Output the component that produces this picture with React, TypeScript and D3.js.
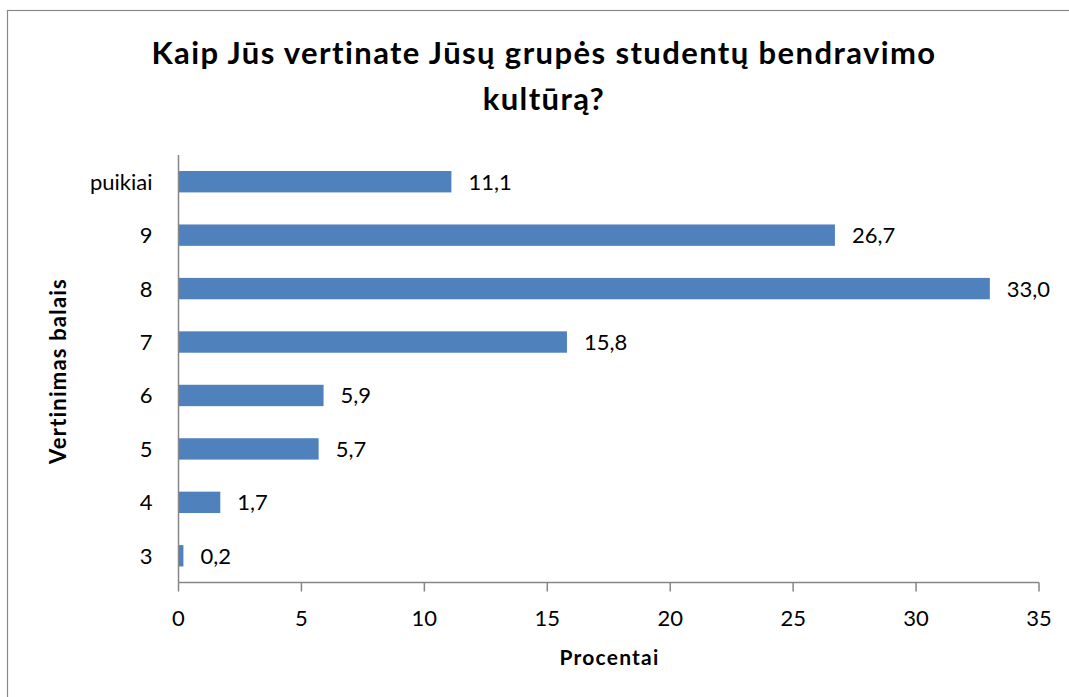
import React from "react";
import * as d3 from "d3";

const categories = ["puikiai", "9", "8", "7", "6", "5", "4", "3"];
const values = [11.1, 26.7, 33.0, 15.8, 5.9, 5.7, 1.7, 0.2];
const xTicks = [0, 5, 10, 15, 20, 25, 30, 35];
const titleLines = ["Kaip Jūs vertinate Jūsų grupės studentų bendravimo", "kultūrą?"];
const xTitle = "Procentai";
const yTitle = "Vertinimas balais";

const FONT = "Lato, 'Open Sans', sans-serif";

export default function App() {
  const W = 1069, H = 697;
  const left = 178.5, right = 1039, top = 155, bottom = 582.5;
  const x = d3.scaleLinear().domain([0, 35]).range([left, right]);
  const y = d3.scaleBand().domain(categories).range([top, bottom]).paddingInner(0.6).paddingOuter(0.3);
  const fmt = (v: number) => v.toFixed(1).replace(".", ",");
  const axisColor = "#868686";
  return (
    <svg width={W} height={H} style={{ position: "absolute", left: 0, top: 0 }} fontFamily={FONT}>
      <rect x={0} y={0} width={W} height={H} fill="#fff" />
      <rect x={7.5} y={10.5} width={W + 10} height={H + 10} fill="none" stroke="#898989" strokeWidth={1.2} />
      {titleLines.map((t, i) => (
        <text key={i} x={544} y={64 + i * 46} textAnchor="middle" fontSize={31} fontWeight="bold" letterSpacing={1.4} fill="#000">{t}</text>
      ))}
      {categories.map((c, i) => (
        <g key={c}>
          <rect x={x(0)} y={y(c)!} width={x(values[i]) - x(0)} height={y.bandwidth()} fill="#4F81BD" />
          <text x={x(values[i]) + 17} y={y(c)! + y.bandwidth() / 2 + 8} fontSize={22} fill="#000">{fmt(values[i])}</text>
          <text x={left - 26} y={y(c)! + y.bandwidth() / 2 + 8} textAnchor="end" fontSize={22} fill="#000">{c}</text>
        </g>
      ))}
      <line x1={left} x2={left} y1={top} y2={bottom} stroke={axisColor} strokeWidth={1.5} />
      <line x1={left} x2={right} y1={bottom} y2={bottom} stroke={axisColor} strokeWidth={1.5} />
      {xTicks.map(t => (
        <g key={t}>
          <line x1={x(t)} x2={x(t)} y1={bottom} y2={bottom + 9} stroke={axisColor} strokeWidth={1.5} />
          <text x={x(t)} y={626} textAnchor="middle" fontSize={22} fill="#000">{t}</text>
        </g>
      ))}
      <text x={609.5} y={665} textAnchor="middle" fontSize={21} fontWeight="bold" letterSpacing={1.2} fill="#000">{xTitle}</text>
      <text transform={`translate(66,${371}) rotate(-90)`} textAnchor="middle" fontSize={22} fontWeight="bold" letterSpacing={1.2} fill="#000">{yTitle}</text>
    </svg>
  );
}
